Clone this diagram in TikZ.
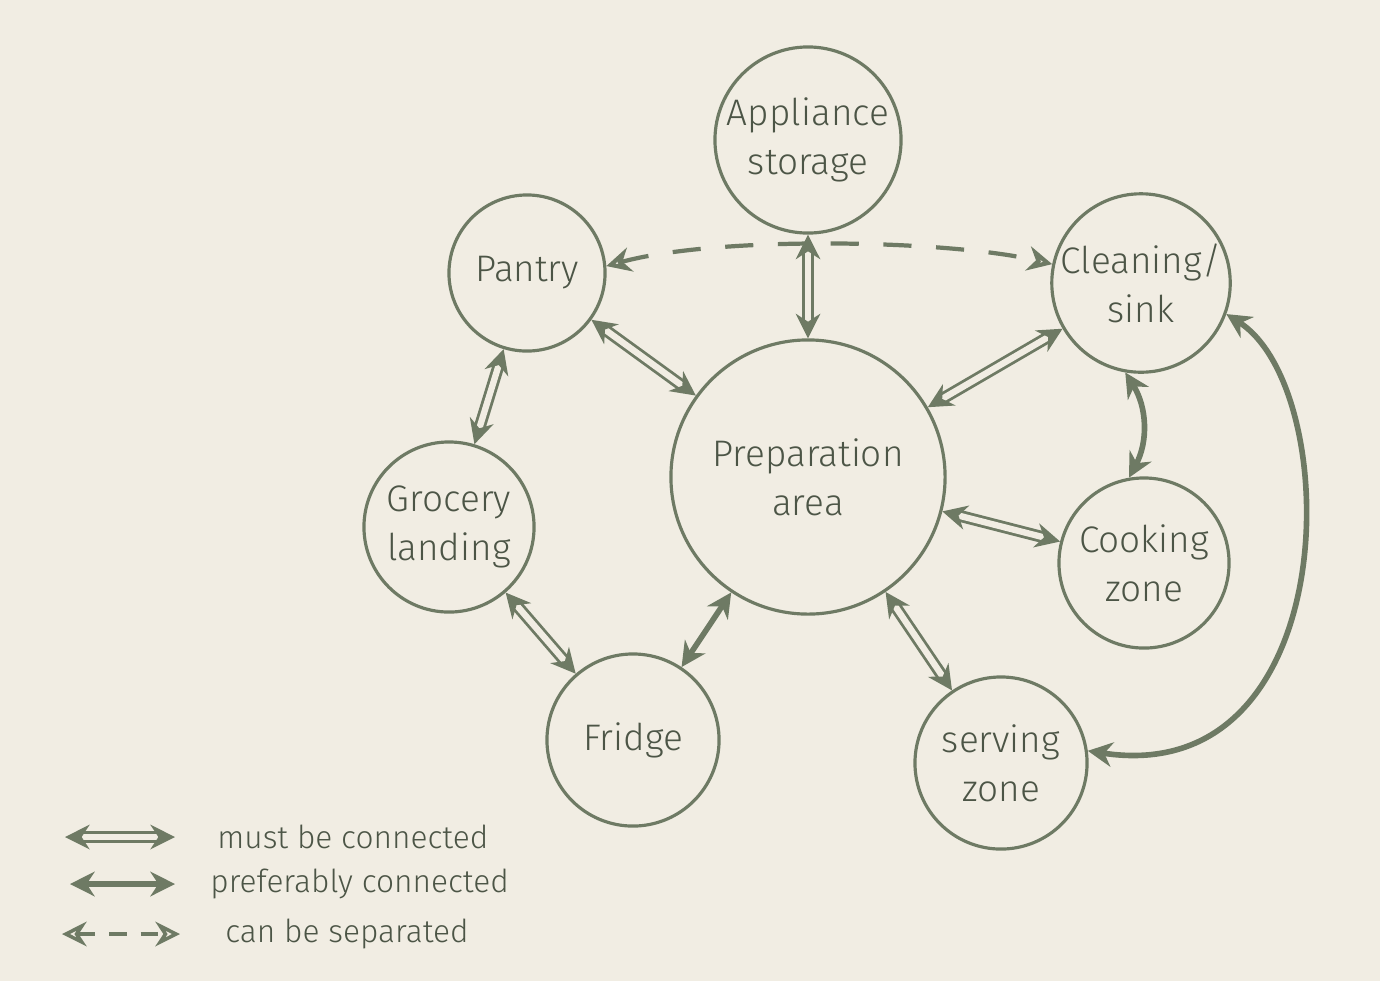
\documentclass[tikz,border=0pt]{standalone}
\usepackage{fontspec}
\setmainfont{Fira Sans Light}
\usetikzlibrary{arrows.meta}
\definecolor{bg}{HTML}{F1EDE3}
\definecolor{lc}{HTML}{6E7A64}
\definecolor{tc}{HTML}{4C5546}
\begin{document}
\begin{tikzpicture}[x=0.01cm,y=-0.01cm,
  zone/.style={circle,draw=lc,line width=0.9pt,text=tc,align=center,font=\fontsize{10.5}{14}\selectfont,inner sep=0pt},
  must/.style={draw=lc,double=bg,double distance=1.8pt,line width=0.8pt,{Stealth[length=7pt,width=7pt]}-{Stealth[length=7pt,width=7pt]}},
  pref/.style={draw=lc,line width=1.6pt,{Stealth[length=7pt,width=7pt]}-{Stealth[length=7pt,width=7pt]}},
  sep/.style={draw=lc,line width=1.2pt,dash pattern=on 8pt off 7pt,{Stealth[length=7pt,width=7pt,open]}-{Stealth[length=7pt,width=7pt,open]}},
  lbl/.style={text=tc,anchor=west,font=\fontsize{9}{11}\selectfont}]
\fill[bg] (0,0) rectangle (1380,981);
\useasboundingbox (0,0) rectangle (1380,981);
\node[zone,minimum size=1.86cm] (app) at (808,140) {Appliance\\storage};
\node[zone,minimum size=1.56cm] (pan) at (527,273) {Pantry};
\node[zone,minimum size=1.60cm] (cln) at (1141,283) {Cleaning/\\sink};
\node[zone,minimum size=2.74cm] (prep) at (808,477) {Preparation\\area};
\node[zone,minimum size=1.70cm] (gro) at (449,527) {Grocery\\landing};
\node[zone,minimum size=1.70cm] (cook) at (1144,563) {Cooking\\zone};
\node[zone,minimum size=1.72cm] (fri) at (633,740) {Fridge};
\node[zone,minimum size=1.72cm] (srv) at (1001,763) {serving\\zone};
\draw[must] (pan) -- (prep);
\draw[must] (app) -- (prep);
\draw[must] (cln) -- (prep);
\draw[must] (prep) -- (cook);
\draw[must] (prep) -- (srv);
\draw[must] (pan) -- (gro);
\draw[must] (gro) -- (fri);
\draw[pref] (prep) -- (fri);
\draw[pref] (cln.-100) to[bend left=30] (cook.100);
\draw[pref] (cln.-20) .. controls (1345,390) and (1345,790) .. (srv.8);
\draw[sep] (pan.5) .. controls (720,235) and (950,240) .. (cln.168);
\coordinate (l1a) at (65,837); \coordinate (l1b) at (175,837);
\coordinate (l2a) at (70,884); \coordinate (l2b) at (175,884);
\coordinate (l3a) at (62,934); \coordinate (l3b) at (180,934);
\draw[must] (l1a) -- (l1b);
\draw[pref] (l2a) -- (l2b);
\draw[sep,dash pattern=on 5pt off 4pt,line width=1pt] (l3a) -- (l3b);
\node[lbl] (t1) at (205,837) {must be connected};
\node[lbl] (t2) at (198,884) {preferably connected};
\node[lbl] (t3) at (213,934) {can be separated};
\end{tikzpicture}
\end{document}
